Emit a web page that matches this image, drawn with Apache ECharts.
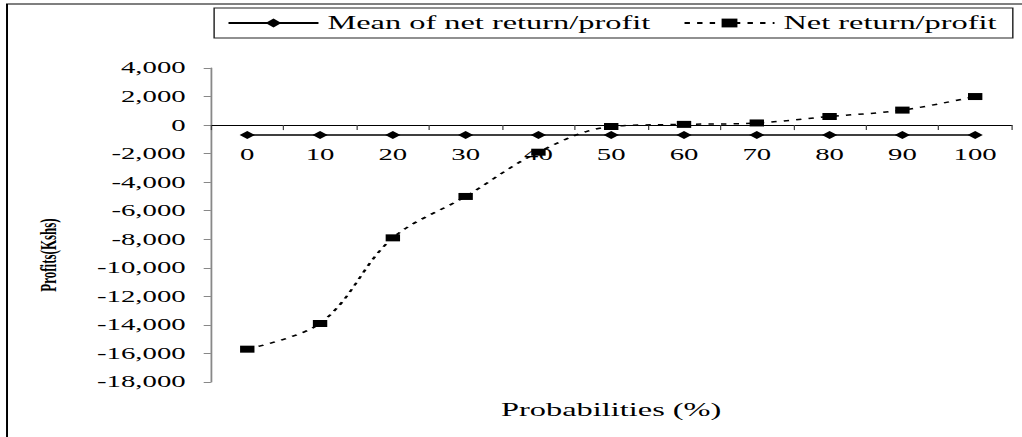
<!DOCTYPE html>
<html>
<head>
<meta charset="utf-8">
<script src="https://cdn.jsdelivr.net/npm/echarts@6/dist/echarts.min.js"></script>
<style>
  html, body { margin: 0; padding: 0; background: #fff; overflow: hidden; }
  #wrap { width: 1022px; height: 437px; overflow: hidden; position: relative; }
  #chart { width: 568px; height: 437px; transform: scaleX(1.79930); transform-origin: 0 0; }
</style>
</head>
<body>
<div id="wrap"><div id="chart"></div></div>
<script>
// ---- data ----
const categories = ['0', '10', '20', '30', '40', '50', '60', '70', '80', '90', '100'];
const meanNetReturn = [-700, -700, -700, -700, -700, -700, -700, -700, -700, -700, -700];
const netReturn = [-15700, -13900, -7900, -5000, -1900, -100, 50, 150, 600, 1050, 2000];
const seriesNames = ['Mean of net return/profit', 'Net return/profit'];
const xTitle = 'Probabilities (%)';
const yTitle = 'Profits(Kshs)';
const yMin = -18000, yMax = 4000, yStep = 2000;

const FONT = '"Liberation Serif", "Times New Roman", serif';
function commas(v) {
  const s = Math.abs(v).toString().replace(/\B(?=(\d{3})+(?!\d))/g, ',');
  return (v < 0 ? '-' : '') + s;
}

const GTOP = 68, GBOTTOM = 55, H = 437;
const plotH = H - GTOP - GBOTTOM;
const zeroH = plotH * yMax / (yMax - yMin);   // height of the part above zero

const chart = echarts.init(document.getElementById('chart'), null, { renderer: 'svg' });
chart.setOption({
  animation: false,
  backgroundColor: '#fff',
  textStyle: { fontFamily: FONT, color: '#000' },
  graphic: [
    {
      type: 'rect', silent: true, z: -10,
      shape: { x: 3.9, y: 4, width: 1000, height: 1000 },
      style: { fill: 'none', stroke: '#000', lineWidth: 1.1 }
    },
    {
      type: 'text', silent: true,
      x: 26.7, y: 255, rotation: Math.PI / 2,
      style: {
        text: yTitle, font: 'bold 13px ' + FONT, fill: '#000',
        align: 'center', verticalAlign: 'middle'
      }
    },
    {
      type: 'text', silent: true,
      x: 339.7, y: 410,
      style: {
        text: xTitle, font: '18px ' + FONT, fill: '#000',
        align: 'center', verticalAlign: 'middle'
      }
    }
  ],
  legend: {
    data: seriesNames,
    left: 119, top: 8,
    orient: 'horizontal',
    padding: [6, 9, 6, 7],
    itemGap: 18,
    itemWidth: 50,
    itemHeight: 11,
    borderColor: '#222',
    borderWidth: 0.8,
    textStyle: { fontFamily: FONT, fontSize: 18, color: '#000' }
  },
  grid: [
    { left: 117.2, right: 5.8, top: GTOP, bottom: GBOTTOM, containLabel: false, outerBoundsMode: 'none' },
    { left: 117.2, right: 5.8, top: GTOP, height: zeroH, containLabel: false, outerBoundsMode: 'none' }
  ],
  xAxis: [
    {
      type: 'category', gridIndex: 0, data: categories, boundaryGap: true,
      show: false
    },
    {
      type: 'category', gridIndex: 1, data: categories, boundaryGap: true,
      position: 'bottom',
      axisLine: { onZero: false, lineStyle: { color: '#000', width: 1 } },
      axisTick: { show: true, length: 5, lineStyle: { color: '#444', width: 0.7 } },
      axisLabel: { margin: 21, fontSize: 16, color: '#000', fontFamily: FONT }
    }
  ],
  yAxis: [
    {
      type: 'value', gridIndex: 0,
      min: yMin, max: yMax, interval: yStep,
      axisLine: { show: true, lineStyle: { color: '#888', width: 1 } },
      axisTick: { show: true, length: 4, lineStyle: { color: '#888', width: 1 } },
      splitLine: { show: false },
      axisLabel: { margin: 14, fontSize: 16, color: '#000', fontFamily: FONT, formatter: commas }
    },
    {
      type: 'value', gridIndex: 1, min: 0, max: yMax, show: false,
      splitLine: { show: false }
    }
  ],
  series: [
    {
      name: seriesNames[0],
      type: 'line',
      xAxisIndex: 0, yAxisIndex: 0,
      data: meanNetReturn,
      symbol: 'diamond',
      symbolSize: [8.5, 8],
      showAllSymbol: true,
      lineStyle: { color: '#000', width: 1.5, type: 'solid' },
      itemStyle: { color: '#000' },
      z: 2
    },
    {
      name: seriesNames[1],
      type: 'line',
      xAxisIndex: 0, yAxisIndex: 0,
      data: netReturn,
      smooth: 0.35,
      symbol: 'rect',
      symbolSize: [8, 7],
      showAllSymbol: true,
      lineStyle: { color: '#000', width: 1.5, type: [3, 4] },
      itemStyle: { color: '#000' },
      z: 3
    }
  ]
});
</script>
</body>
</html>
